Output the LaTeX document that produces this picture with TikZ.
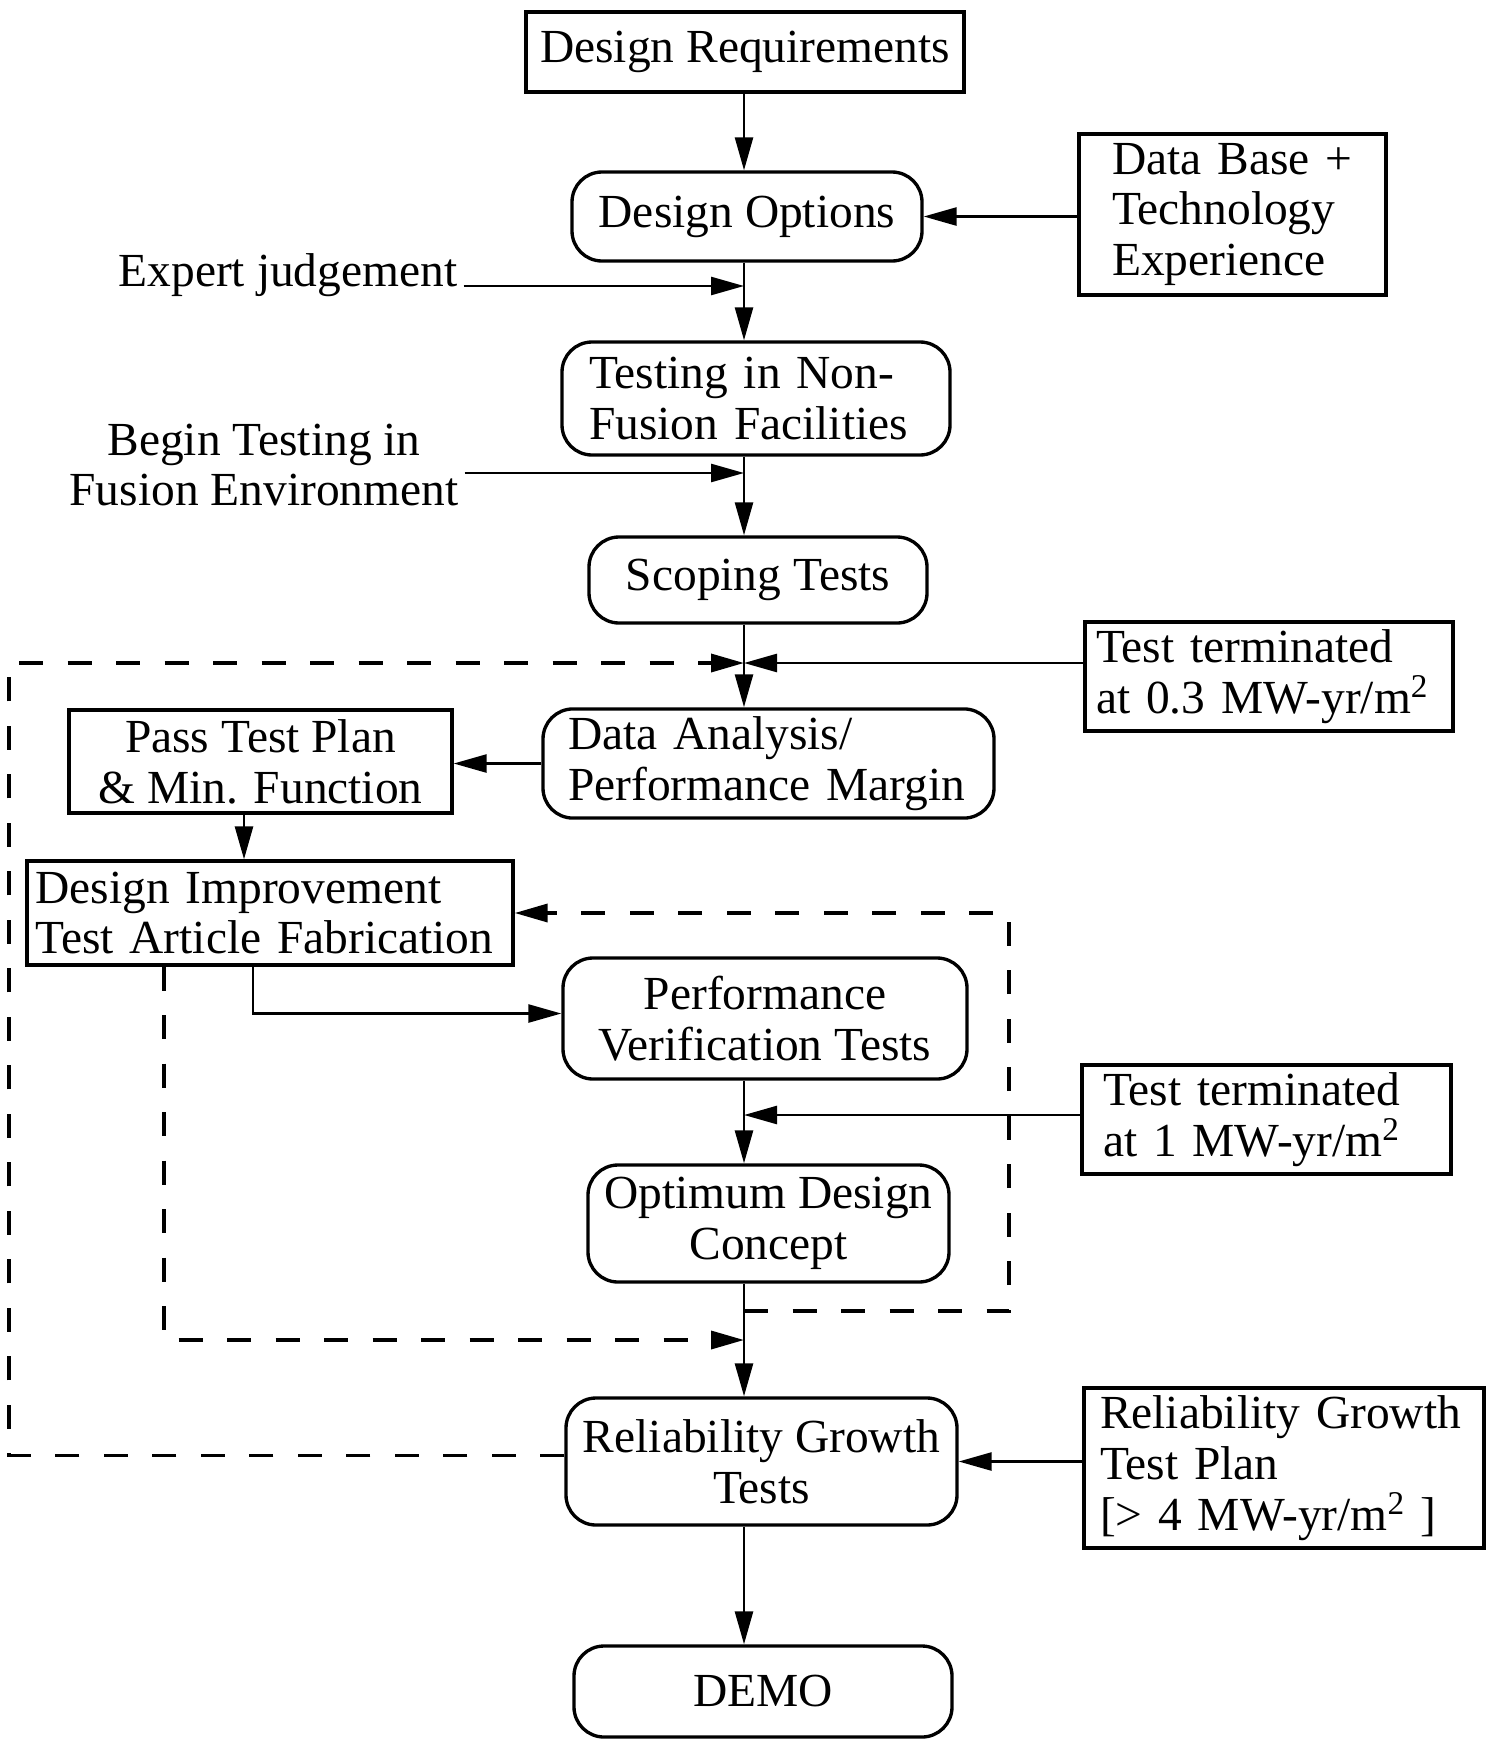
\documentclass[tikz,border=0pt]{standalone}
\usepackage{fontspec}
\setmainfont{Liberation Serif}
\usepackage{tikz}
\usetikzlibrary{arrows.meta,positioning}

\begin{document}
\begin{tikzpicture}[>={Triangle[length=0.66cm,width=0.36cm]}, font=\fontsize{27}{29}\selectfont,
    blk/.style={draw, line width=1.9pt, inner sep=0.15cm},
    rbox/.style={draw, line width=1.9pt, rounded corners=0.6cm, inner sep=0.15cm},
    flow/.style={->, line width=1.5pt},
    loop/.style={->, line width=2pt, dash pattern=on 0.48cm off 0.49cm}]
      \useasboundingbox (0,0) rectangle (29.88,-34.78);
      % main column
      \node[blk, minimum width=8.76cm, minimum height=1.60cm] (req) at (14.90,-1.04) {Design Requirements};
      \node[rbox, minimum width=7.0cm, minimum height=1.78cm] (opt) at (14.94,-4.33) {Design Options};
      \node[rbox, text width=6.68cm, inner xsep=0.54cm, minimum height=2.26cm, align=left] (nff) at (15.12,-7.97) {Testing in Non-\\Fusion Facilities};
      \node[rbox, minimum width=6.76cm, minimum height=1.72cm] (scope) at (15.16,-11.6) {Scoping Tests};
      \node[rbox, text width=8.02cm, inner xsep=0.5cm, minimum height=2.14cm, align=left] (da) at (15.37,-15.27) {Data Analysis/\\Performance Margin};
      \node[rbox, minimum width=8.08cm, minimum height=2.42cm, align=center] (pvt) at (15.30,-20.37) {Performance\\Verification Tests};
      \node[rbox, minimum width=7.22cm, minimum height=2.34cm, align=center] (odc) at (15.37,-24.47) {Optimum Design\\Concept};
      \node[rbox, minimum width=7.82cm, minimum height=2.54cm, align=center] (rgt) at (15.23,-29.23) {Reliability Growth\\Tests};
      \node[rbox, minimum width=7.56cm, minimum height=1.82cm] (demo) at (15.26,-33.83) {DEMO};
      % left side
      \node (expert) at (5.76,-5.5) {Expert judgement};
      \node[align=center] (begin) at (5.28,-9.3) {Begin Testing in\\Fusion Environment};
      \node[blk, minimum width=7.66cm, minimum height=2.06cm, align=center] (pass) at (5.21,-15.23) {Pass Test Plan\\\& Min. Function};
      \node[blk, text width=9.38cm, inner xsep=0.17cm, minimum height=2.08cm, align=left] (dimp) at (5.40,-18.26) {Design Improvement\\Test Article Fabrication};
      % right side
      \node[blk, text width=4.82cm, inner xsep=0.66cm, minimum height=3.22cm, align=left] (db) at (24.65,-4.29) {Data Base +\\Technology\\Experience};
      \node[blk, text width=6.92cm, inner xsep=0.22cm, minimum height=2.14cm, align=left] (tt03) at (25.38,-13.53) {Test terminated\\at 0.3 MW-yr/m\textsuperscript{2}};
      \node[blk, text width=6.54cm, inner xsep=0.42cm, minimum height=2.10cm, align=left] (tt1) at (25.33,-22.39) {Test terminated\\at 1 MW-yr/m\textsuperscript{2}};
      \node[blk, text width=7.36cm, inner xsep=0.32cm, minimum height=3.16cm, align=left] (rgtp) at (25.68,-29.36) {Reliability Growth\\Test Plan\\{[}> 4 MW-yr/m\textsuperscript{2} ]};
      % points on the main line
      \coordinate (mx) at (14.88,0);
      \coordinate (ej) at (14.88,-5.72);
      \coordinate (bt) at (14.88,-9.46);
      \coordinate (t03) at (14.88,-13.26);
      \coordinate (t1) at (14.88,-22.3);
      \coordinate (lp) at (14.88,-26.22);
      \coordinate (lq) at (14.88,-26.8);
      % solid arrows
      \draw[flow] (req.south -| mx) -- (opt.north -| mx);
      \draw[flow] (db.west |- opt.east) -- (opt.east);
      \draw[flow] (opt.south -| mx) -- (nff.north -| mx);
      \draw[flow] (expert.east |- ej) -- (ej);
      \draw[flow] (nff.south -| mx) -- (scope.north -| mx);
      \draw[flow] (begin.east |- bt) -- (bt);
      \draw[flow] (scope.south -| mx) -- (da.north -| mx);
      \draw[flow] (tt03.west |- t03) -- (t03);
      \draw[flow] (da.west) -- (da.west -| pass.east);
      \draw[flow] ([xshift=-0.33cm]pass.south) -- ([xshift=-0.33cm]pass.south |- dimp.north);
      \draw[flow] ([xshift=-0.34cm]dimp.south) |- ([yshift=0.1cm]pvt.west);
      \draw[flow] (tt1.west |- t1) -- (t1);
      \draw[flow] (pvt.south -| mx) -- (odc.north -| mx);
      \draw[flow] (odc.south -| mx) -- (rgt.north -| mx);
      \draw[flow] (rgtp.west |- rgt.east) -- (rgt.east);
      \draw[flow] (rgt.south -| mx) -- (demo.north -| mx);
      % dashed loops
      \draw[loop] ([yshift=0.12cm]rgt.west) -| (0.18,-13.26) -- (t03);
      \draw[loop] (lp) -| (20.18,-18.26) -- (dimp.east);
      \draw[loop] ([xshift=-2.12cm]dimp.south) |- (lq);
    \end{tikzpicture}
\end{document}
